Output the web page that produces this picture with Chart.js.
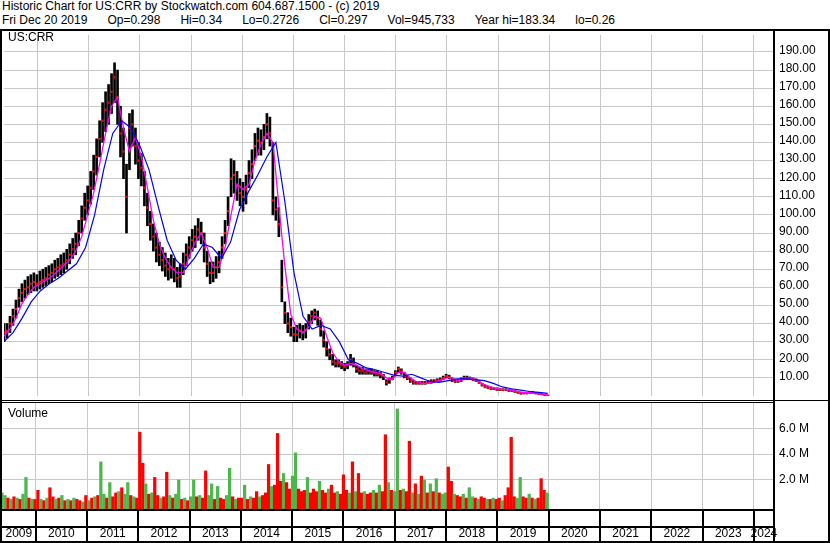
<!DOCTYPE html>
<html>
<head>
<meta charset="utf-8">
<script src="https://cdn.jsdelivr.net/npm/chart.js@4.4.1/dist/chart.umd.min.js"></script>
<style>
  html, body { margin: 0; padding: 0; background: #fff; }
  body { width: 830px; height: 543px; position: relative; overflow: hidden;
         font-family: "Liberation Sans", Arial, sans-serif; color: #000; }
  .txt { position: absolute; font-size: 12px; line-height: 14px; white-space: pre; }
  .gap { display: inline-block; width: 20px; }
  .bar { position: absolute; background: #000; }
  canvas { position: absolute; left: 0; }
</style>
</head>
<body>
<div class="txt" style="left:2px; top:-1px;">Historic Chart for US:CRR by Stockwatch.com 604.687.1500 - (c) 2019</div>
<div class="txt" style="left:2px; top:13px;">Fri Dec 20 2019<span class="gap"></span>Op=0.298<span class="gap"></span>Hi=0.34<span class="gap"></span>Lo=0.2726<span class="gap"></span>Cl=0.297<span class="gap"></span>Vol=945,733<span class="gap"></span>Year hi=183.34<span class="gap"></span>lo=0.26</div>

<canvas id="priceChart" width="830" height="369" style="top:31px"></canvas>
<canvas id="volumeChart" width="830" height="140" style="top:403px"></canvas>

<div class="txt" style="left:8px; top:30px;">US:CRR</div>
<div class="txt" style="left:8px; top:406px;">Volume</div>

<!-- frame -->
<div class="bar" style="left:0; top:29px; width:830px; height:2px;"></div>
<div class="bar" style="left:0; top:29px; width:2px; height:514px;"></div>
<div class="bar" style="left:828px; top:29px; width:2px; height:514px;"></div>
<div class="bar" style="left:773px; top:29px; width:2px; height:512px;"></div>
<div class="bar" style="left:0; top:400px; width:830px; height:1px;"></div>
<div class="bar" style="left:0; top:402px; width:774px; height:1px;"></div>

<script>
// time span of the data (decimal years) and of the axis
const startYear = 2009.343;
const endYear = 2019.97;
const axisMin = 2009.343;
const axisMax = 2024.392;

const yearTicks = [2010, 2011, 2012, 2013, 2014, 2015, 2016, 2017, 2018, 2019, 2020, 2021, 2022, 2023, 2024];
const yearLabels = [2009, 2010, 2011, 2012, 2013, 2014, 2015, 2016, 2017, 2018, 2019, 2020, 2021, 2022, 2023, 2024];
const priceTicks = [10, 20, 30, 40, 50, 60, 70, 80, 90, 100, 110, 120, 130, 140, 150, 160, 170, 180, 190];
const volumeTicks = [2, 4, 6];

// price bars, ~3 weeks apart
const priceHigh = [40,40,44,48,53,59,62,64,66,67,
  68,67,69,70,71,72,73,75,76,78,
  79,81,84,87,90,97,105,112,116,124,
  133,142,152,162,168,172,178,184,180,160,
  148,128,156,158,148,140,134,124,112,102,
  95,90,85,82,79,76,78,76,71,73,
  79,84,88,92,94,98,96,90,80,74,
  74,77,80,88,97,110,131,130,124,120,
  118,122,130,136,145,148,147,150,156,154,
  140,110,104,75,52,46,43,38,39,40,
  39,40,45,47,48,47,42,36,30,26,
  23,20,20,19,18,19,23,21,17,16,
  16,15,15,15,14,14,13,12,9,10,
  11,14,16,15,13,11,10,8.5,8,8,
  8,8,8.5,9,9,9.5,10,11,12,11.5,
  10,9,9,10,11,11,10.5,10,9.5,8.5,
  7,6,5.5,5,4.5,4.5,4,4,4,3.5,
  3.5,3,2.5,2,2,2,2.5,2.5,2,1.5,
  1.3,0.8,0.34];

const priceLow = [30,32,35,39,43,49,52,54,56,57,
  58,58,59,60,61,62,63,65,66,67,
  68,70,73,76,78,83,90,97,100,106,
  114,122,132,140,146,150,156,162,150,132,
  120,90,125,138,128,120,116,105,94,86,
  80,74,72,69,66,64,65,63,60,60,
  67,72,76,80,82,86,84,74,66,62,
  63,65,68,76,84,94,110,112,108,105,
  102,106,115,120,130,133,133,136,142,138,
  100,97,88,52,40,35,33,30,30,32,
  31,32,37,40,42,39,33,27,22,20,
  17,16,16,15,14,15,17,16,13,12,
  12,12,12,12,11,11,10,9,6,7,
  9,11,13,12,10,9,7.5,6.5,6.5,6.5,
  6.5,6.5,7,7,7.5,8,8,9,10,9.5,
  8,7.5,7.5,8,9,9,9,8.5,8,7,
  5.5,4.5,4,3.5,3.5,3,3,3,3,2.5,
  2.5,2,1.5,1,1.2,1.2,1.5,1.5,1.2,0.9,
  0.7,0.3,0.27];

const priceClose = [35,36,40,44,48,54,57,59,60,62,
  63,62,63,64,65,67,68,70,71,72,
  73,75,78,81,84,90,98,104,108,115,
  124,132,142,152,158,162,168,176,165,145,
  135,110,148,150,138,130,126,115,104,95,
  88,82,78,75,72,70,71,70,65,66,
  73,78,82,86,88,92,90,82,73,68,
  68,71,74,82,90,102,120,122,116,112,
  110,114,123,128,138,141,140,143,150,145,
  108,103,95,60,46,40,38,34,34,36,
  35,36,41,44,46,43,37,31,26,23,
  19,18,18,17,16,17,20,18,15,14,
  14,13,14,13,13,12,12,11,7.5,9,
  10,13,15,14,11,10,8.5,7.5,7,7,
  7,7,7.5,8,8,8.5,9,10,11,10.5,
  9,8,8,9,10,10,9.5,9,8.5,7.5,
  6,5,4.5,4,4,3.5,3.5,3.5,3.5,3,
  3,2.5,2,1.5,1.5,1.5,2,2,1.5,1.2,
  1,0.5,0.3];

// short moving average (magenta)
const maShort = [33,37,43,51,56,60,62,64,66,69,
  72,75,80,88,100,112,128,145,160,165,
  148,135,143,132,115,97,84,76,71,68,
  68,77,85,90,82,71,71,82,100,117,
  114,117,130,139,145,140,105,72,45,37,
  35,38,44,43,33,24,19,17,18,17,
  15,14,13,12.5,10,9,13,13,10,8,
  7,7,8,8.5,10,10,8.5,9,10,9,
  7,5.5,4.5,3.8,3.5,3.2,2.5,1.8,1.8,1.8,
  1.2,0.6];

// long moving average (blue)
const maLong = [30,35,43,52,58,62,65,69,73,82,
  100,125,145,152,148,138,125,105,86,75,
  70,76,84,82,76,85,103,113,122,132,
  140,107,68,44,37,39,37,30,20,18,
  15.5,14.5,13,11.5,11,12,10,8,7.5,8.5,
  9.5,9.5,9,8.5,7,5,4,3.2,2.5,2,
  1.5];

// volume in millions, same dates as the price bars
const volume = [1.0,0.8,0.6,0.5,0.7,0.6,0.5,0.9,2.2,0.6,
  0.5,0.5,1.2,0.5,0.4,0.6,1.4,0.7,0.5,0.6,
  0.8,0.4,0.5,0.4,0.6,0.5,0.4,0.3,0.8,0.4,
  0.6,0.7,0.8,3.4,0.9,0.6,1.8,0.7,1.0,1.1,
  1.4,0.9,1.8,0.8,0.7,0.6,5.7,3.3,1.7,0.9,
  1.0,2.2,0.8,0.6,0.7,2.6,0.8,0.6,0.9,2.0,
  0.5,0.6,0.4,0.7,2.0,0.7,0.8,0.6,2.7,0.8,
  1.7,0.5,1.5,0.6,0.5,0.8,2.9,0.7,0.5,0.6,
  0.6,1.6,0.5,0.7,0.6,1.1,0.7,0.8,1.0,3.2,
  1.5,1.6,5.6,1.9,2.5,1.8,1.3,2.3,4.1,1.3,
  1.1,1.2,2.2,1.0,1.3,1.1,1.9,1.2,1.0,1.3,
  1.6,1.0,1.1,0.9,2.4,1.2,1.0,3.4,1.1,2.5,
  1.0,1.1,0.9,1.0,1.2,1.0,1.6,1.1,5.5,1.8,
  1.2,1.1,7.5,1.2,1.3,1.1,5.0,1.0,1.7,0.9,
  2.3,2.0,1.0,1.7,1.1,2.1,1.0,0.9,1.0,3.0,
  1.9,0.9,0.8,0.7,0.9,0.6,1.4,0.7,0.6,0.5,
  0.7,0.6,0.5,0.5,0.6,0.5,0.6,0.4,0.8,1.4,
  5.3,0.7,0.6,2.2,0.7,0.6,0.9,0.6,0.5,0.6,
  2.1,1.2,1.0];

// g = up volume, r = down volume
const volumeDir = ('ggrgrgrggr' + 'grrgrgrrgr' + 'grgrgrrgrg' + 'rgrggrgrrg' +
  'rggrgrrrgr' + 'grrgrrgrgg' + 'rgrggrgrrg' + 'grgrrggrgr' +
  'rgrgrrgrrr' + 'grrrgrrggr' + 'rrgrrrgrrg' + 'rrgrrrgrgr' +
  'rgrrgrgrrg' + 'rggrgrrgrg' + 'rgrgrgrggr' + 'rgrrgrggrg' +
  'rrgrgrrgrr' + 'rrggrrgrgrrrg').split('');

const volMin = -0.244;
const volMax = 7.955;

function dateAt(i, n) {
  return startYear + (endYear - startYear) * i / (n - 1);
}
function series(values) {
  return values.map((v, i) => ({ x: dateAt(i, values.length), y: v }));
}

Chart.defaults.font.family = '"Liberation Sans", Arial, sans-serif';
Chart.defaults.font.size = 12;
Chart.defaults.color = '#000';

const GRID = '#c8c8c8';

function xScale() {
  return {
    type: 'linear',
    min: axisMin,
    max: axisMax,
    offset: false,
    afterBuildTicks: (s) => { s.ticks = yearTicks.map(v => ({ value: v })); },
    afterFit: (s) => { s.height = 0; s.paddingLeft = 0; s.paddingRight = 0; },
    ticks: { display: false },
    grid: { color: GRID, lineWidth: 1, drawTicks: false, offset: false },
    border: { display: false }
  };
}

function yScale(min, max, ticks, fmt, shift) {
  return {
    position: 'right',
    min: min,
    max: max,
    afterBuildTicks: (s) => { s.ticks = ticks.map(v => ({ value: v })); },
    afterFit: (s) => { s.width = 56; s.paddingTop = 0; s.paddingBottom = 0; },
    ticks: { padding: 5, callback: fmt, labelOffset: shift, font: { size: 12 } },
    grid: { color: GRID, lineWidth: 1, drawTicks: false },
    border: { display: true, color: '#000', width: 2 }
  };
}

const baseOptions = {
  responsive: false,
  animation: false,
  devicePixelRatio: 1,
  events: [],
  plugins: { legend: { display: false }, tooltip: { enabled: false } }
};

new Chart(document.getElementById('priceChart'), {
  type: 'bar',
  data: {
    datasets: [
      {
        type: 'line',
        data: series(maLong),
        borderColor: '#0000ff',
        borderWidth: 1.2,
        pointRadius: 0,
        tension: 0,
        order: 0
      },
      {
        type: 'line',
        data: series(maShort),
        borderColor: '#ff00ff',
        borderWidth: 1.3,
        pointRadius: 0,
        tension: 0,
        order: 1
      },
      {
        type: 'line',
        data: series(priceClose),
        showLine: false,
        pointStyle: 'rect',
        pointRadius: 1.5,
        pointBorderWidth: 0,
        pointBackgroundColor: '#ff0000',
        order: 2
      },
      {
        type: 'bar',
        data: priceLow.map((lo, i) => ({ x: dateAt(i, priceLow.length), y: [lo, priceHigh[i]] })),
        backgroundColor: '#000',
        barThickness: 2,
        order: 3
      }
    ]
  },
  options: Object.assign({}, baseOptions, {
    layout: { padding: { left: 2, right: 0, top: 0, bottom: 0 } },
    scales: {
      x: xScale(),
      y: yScale(0, 199.35, priceTicks, v => v.toFixed(2), -1.5)
    }
  })
});

const yearRowPlugin = {
  id: 'yearRow',
  afterDraw(chart) {
    const { ctx, chartArea } = chart;
    const x = chart.scales.x;
    const top = Math.round(chartArea.bottom);
    const right = Math.round(chartArea.right);
    ctx.save();
    ctx.fillStyle = '#000';
    ctx.fillRect(0, top, right, 2);
    ctx.fillRect(0, top + 17, right, 2);
    ctx.fillRect(0, top + 32, chart.width, 2);
    yearTicks.forEach(yr => {
      const px = Math.round(x.getPixelForValue(yr));
      ctx.fillRect(px - 1, top, 2, 32);
    });
    ctx.font = '12px "Liberation Sans", Arial, sans-serif';
    ctx.textAlign = 'center';
    ctx.textBaseline = 'alphabetic';
    yearLabels.forEach(yr => {
      const a = x.getPixelForValue(Math.max(yr, x.min));
      const b = x.getPixelForValue(Math.min(yr + 1, x.max));
      ctx.fillText(String(yr), (a + b) / 2, top + 28);
    });
    ctx.restore();
  }
};

new Chart(document.getElementById('volumeChart'), {
  type: 'bar',
  data: {
    datasets: [{
      data: series(volume),
      backgroundColor: volumeDir.map(d => d === 'g' ? '#4cb84c' : '#ff0000'),
      barThickness: 2.6,
      base: volMin
    }]
  },
  options: Object.assign({}, baseOptions, {
    layout: { padding: { left: 2, right: 0, top: 0, bottom: 34 } },
    scales: {
      x: xScale(),
      y: yScale(volMin, volMax, volumeTicks, v => v.toFixed(1) + ' M', 0)
    }
  }),
  plugins: [yearRowPlugin]
});
</script>
</body>
</html>
